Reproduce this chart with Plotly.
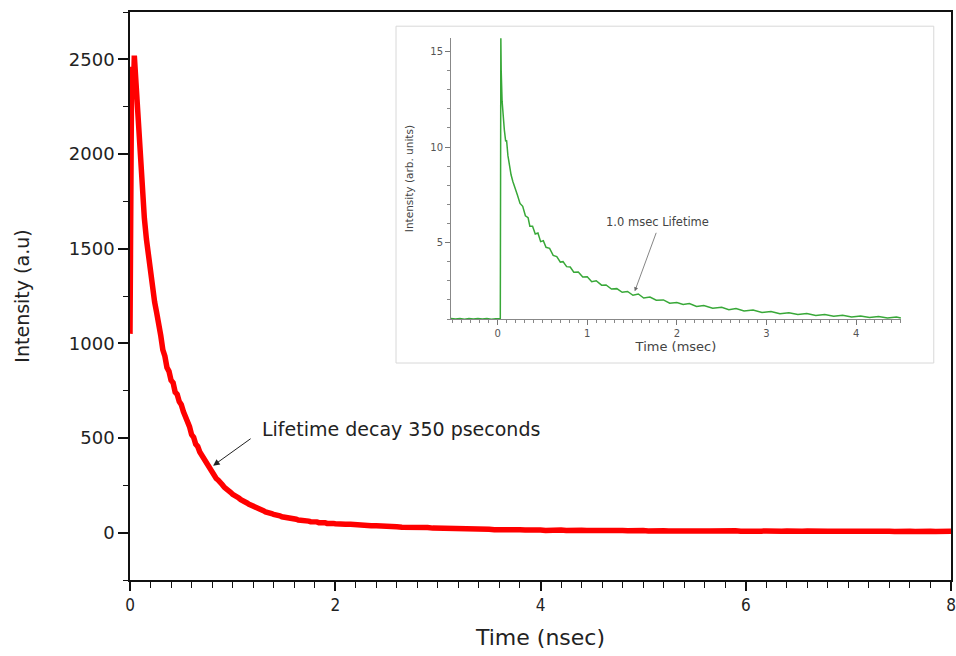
import plotly.graph_objects as go

# ---- main trace: fluorescence decay (Time in nsec, Intensity a.u.) ----
main_time = [0.000, 0.004, 0.010, 0.016, 0.022, 0.030, 0.036, 0.042, 0.050,
             0.06, 0.08, 0.10, 0.12, 0.14, 0.16, 0.18, 0.20, 0.22, 0.24,
             0.26, 0.28, 0.30, 0.32, 0.34, 0.36, 0.38, 0.40, 0.42, 0.44,
             0.46, 0.48, 0.50, 0.52, 0.54, 0.56, 0.58, 0.60, 0.62, 0.64,
             0.66, 0.68, 0.70, 0.72, 0.74, 0.76, 0.78, 0.80, 0.82, 0.84,
             0.86, 0.88, 0.90, 0.92, 0.94, 0.96, 0.98, 1.00, 1.02, 1.04,
             1.06, 1.08, 1.10, 1.12, 1.14, 1.16, 1.18, 1.20, 1.22, 1.24,
             1.26, 1.28, 1.30, 1.32, 1.34, 1.36, 1.38, 1.40, 1.42, 1.44,
             1.46, 1.48, 1.50, 1.52, 1.54, 1.56, 1.58, 1.60, 1.62, 1.64,
             1.66, 1.68, 1.70, 1.72, 1.74, 1.76, 1.78, 1.80, 1.82, 1.84,
             1.86, 1.88, 1.90, 1.92, 1.94, 1.96, 1.98,
             2.00, 2.05, 2.10, 2.15, 2.20, 2.25, 2.30, 2.35, 2.40, 2.45,
             2.50, 2.55, 2.60, 2.65, 2.70, 2.75, 2.80, 2.85, 2.90, 2.95,
             3.00, 3.05, 3.10, 3.15, 3.20, 3.25, 3.30, 3.35, 3.40, 3.45,
             3.50, 3.55, 3.60, 3.65, 3.70, 3.75, 3.80, 3.85, 3.90, 3.95,
             4.00, 4.05, 4.10, 4.15, 4.20, 4.25, 4.30, 4.35, 4.40, 4.45,
             4.50, 4.55, 4.60, 4.65, 4.70, 4.75, 4.80, 4.85, 4.90, 4.95,
             5.00, 5.05, 5.10, 5.15, 5.20, 5.25, 5.30, 5.35, 5.40, 5.45,
             5.50, 5.55, 5.60, 5.65, 5.70, 5.75, 5.80, 5.85, 5.90, 5.95,
             6.00, 6.05, 6.10, 6.15, 6.20, 6.25, 6.30, 6.35, 6.40, 6.45,
             6.50, 6.55, 6.60, 6.65, 6.70, 6.75, 6.80, 6.85, 6.90, 6.95,
             7.00, 7.05, 7.10, 7.15, 7.20, 7.25, 7.30, 7.35, 7.40, 7.45,
             7.50, 7.55, 7.60, 7.65, 7.70, 7.75, 7.80, 7.85, 7.90, 7.95,
             8.00]
main_intensity = [1050, 1750, 2300, 2460, 2400, 2290, 2380, 2520, 2450,
                  2320, 2070, 1915, 1755, 1660, 1550, 1460, 1372, 1312, 1218,
                  1162, 1072, 1040, 965, 932, 872, 852, 805, 792, 742,
                  730, 692, 676, 640, 616, 575, 560, 518, 504, 468,
                  455, 426, 408, 384, 371, 347, 337, 314, 306, 286,
                  277, 259, 253, 239, 233, 220, 213, 203, 198, 188,
                  183, 174, 170, 162, 157, 150, 146, 139, 136, 129,
                  125, 119, 116, 110, 109, 103, 101, 96, 95, 90,
                  89, 84, 83, 79, 79, 75, 75, 71, 71, 67,
                  67, 64, 64, 61, 61, 58, 59, 56, 57, 53,
                  55, 51, 53, 49, 51, 48, 49,
                  47, 49, 44, 45, 41, 40, 39, 36, 36, 33,
                  34, 31, 31, 29, 30, 27, 27, 26, 27, 24,
                  24, 22, 23, 21, 22, 20, 20, 19, 20, 17,
                  18, 16, 17, 15, 17, 15, 15, 14, 16, 13,
                  14, 12, 14, 13, 14, 11, 13, 12, 13, 11,
                  12, 11, 12, 10, 12, 11, 11, 10, 12, 10,
                  11, 9, 11, 9, 10, 9, 10, 9, 10, 8,
                  10, 8, 9, 9, 10, 8, 9, 8, 10, 7,
                  9, 7, 9, 8, 9, 7, 9, 8, 9, 7,
                  8, 7, 9, 7, 8, 7, 8, 7, 9, 7,
                  8, 7, 8, 7, 8, 6, 8, 7, 8, 6,
                  8, 6, 8, 6, 8, 7, 7, 6, 8, 6,
                  7]

# ---- inset trace: phosphorescence decay (Time in msec) ----
inset_time = [-0.52, -0.47, -0.42, -0.37, -0.32, -0.27, -0.22, -0.17, -0.12, -0.07,
              -0.02, 0.030, 0.033, 0.036, 0.040, 0.050, 0.060, 0.075, 0.090, 0.100,
              0.115, 0.130, 0.150, 0.170, 0.200, 0.220, 0.250, 0.280, 0.310, 0.340,
              0.360, 0.390, 0.420, 0.450, 0.480, 0.510, 0.540, 0.580, 0.620, 0.660,
              0.700, 0.730, 0.770, 0.810, 0.850, 0.900, 0.950, 1.000, 1.050, 1.100,
              1.160, 1.210, 1.270, 1.330, 1.390, 1.450, 1.510, 1.570, 1.630, 1.700,
              1.770, 1.850, 1.920, 2.000, 2.070, 2.140, 2.220, 2.300, 2.400, 2.500,
              2.580, 2.660, 2.750, 2.850, 2.950, 3.050, 3.150, 3.250, 3.350, 3.450,
              3.550, 3.650, 3.750, 3.850, 3.950, 4.050, 4.150, 4.250, 4.350, 4.450,
              4.500]
inset_intensity = [1.02, 1.00, 1.03, 0.99, 1.02, 1.00, 1.03, 1.00, 1.02, 0.99,
                   1.01, 1.02, 8.00, 15.75, 14.00, 12.40, 11.60, 10.90, 10.30, 10.35,
                   9.55, 9.05, 8.55, 8.20, 7.70, 7.50, 7.05, 6.90, 6.40, 6.30,
                   5.85, 5.85, 5.45, 5.50, 5.05, 5.10, 4.75, 4.70, 4.33, 4.27,
                   3.98, 4.00, 3.74, 3.72, 3.45, 3.46, 3.20, 3.21, 2.95, 3.00,
                   2.77, 2.78, 2.57, 2.59, 2.40, 2.44, 2.24, 2.31, 2.10, 2.15,
                   1.98, 2.00, 1.83, 1.86, 1.76, 1.81, 1.66, 1.70, 1.56, 1.61,
                   1.49, 1.55, 1.42, 1.47, 1.34, 1.39, 1.28, 1.33, 1.23, 1.29,
                   1.19, 1.24, 1.15, 1.20, 1.11, 1.16, 1.08, 1.13, 1.05, 1.10,
                   1.05]

main_xticks = [0, 2, 4, 6, 8]
main_yticks = [0, 500, 1000, 1500, 2000, 2500]
inset_xticks = [0, 1, 2, 3, 4]
inset_yticks = [5, 10, 15]

fig = go.Figure()

fig.add_trace(go.Scatter(
    x=main_time, y=main_intensity, mode="lines",
    line=dict(color="#ff0000", width=5.5), xaxis="x", yaxis="y",
    showlegend=False, hoverinfo="skip"))

fig.add_trace(go.Scatter(
    x=inset_time, y=inset_intensity, mode="lines",
    line=dict(color="#38a838", width=1.5), xaxis="x2", yaxis="y2",
    showlegend=False, hoverinfo="skip"))

wide = "DejaVu Sans, Verdana, sans-serif"
narrow = "DejaVu Sans Condensed, Liberation Sans Narrow, Liberation Sans, Arial, sans-serif"
inset_font = dict(family=wide, size=10, color="#555")

fig.update_layout(
    template="none",
    width=956, height=656,
    margin=dict(l=130, r=5, t=12, b=76, autoexpand=False),
    paper_bgcolor="white", plot_bgcolor="white",
    xaxis=dict(
        range=[0, 8], domain=[0, 1], automargin=False,
        tickvals=main_xticks, ticktext=[str(v) for v in main_xticks],
        ticks="outside", ticklen=9, tickwidth=1.5, tickcolor="#111",
        minor=dict(dtick=0.2, tick0=0, ticks="outside", ticklen=6, tickwidth=1.2, tickcolor="#111", showgrid=False),
        showline=True, linecolor="#111", linewidth=1.5, mirror=True,
        showgrid=False, zeroline=False,
        tickfont=dict(family=narrow, size=17, color="#222"),
        title=dict(text="Time (nsec)", font=dict(family=wide, size=22, color="#222"), standoff=15),
    ),
    yaxis=dict(
        range=[-250, 2750], domain=[0, 1], automargin=False,
        tickvals=main_yticks, ticktext=[str(v) for v in main_yticks],
        ticks="outside", ticklen=10, tickwidth=1.5, tickcolor="#111",
        minor=dict(dtick=250, tick0=0, ticks="outside", ticklen=5, tickwidth=1.2, tickcolor="#111", showgrid=False),
        showline=True, linecolor="#111", linewidth=1.5, mirror=True,
        showgrid=False, zeroline=False,
        tickfont=dict(family=wide, size=18, color="#222"),
        title=dict(text="Intensity (a.u)", font=dict(family=wide, size=19, color="#222"), standoff=34),
    ),
    xaxis2=dict(
        range=[-0.52, 4.5], domain=[0.391, 0.939], anchor="y2", automargin=False,
        tickvals=inset_xticks, ticktext=[str(v) for v in inset_xticks],
        ticks="outside", ticklen=5, tickwidth=1, tickcolor="#777",
        minor=dict(dtick=0.1, tick0=0, ticks="outside", ticklen=3, tickwidth=1, tickcolor="#888", showgrid=False),
        showline=True, linecolor="#888", linewidth=1,
        showgrid=False, zeroline=False,
        tickfont=inset_font,
        title=dict(text="Time (msec)", font=dict(family=wide, size=13, color="#444"), standoff=2),
    ),
    yaxis2=dict(
        range=[1.0, 15.7], domain=[0.4595, 0.954], anchor="x2", automargin=False,
        tickvals=inset_yticks, ticktext=[str(v) for v in inset_yticks],
        ticks="outside", ticklen=5, tickwidth=1, tickcolor="#777",
        minor=dict(dtick=1, tick0=0, ticks="outside", ticklen=3, tickwidth=1, tickcolor="#888", showgrid=False),
        showline=True, linecolor="#888", linewidth=1,
        showgrid=False, zeroline=False,
        tickfont=inset_font,
        title=dict(text="Intensity (arb. units)", font=dict(family=wide, size=10.5, color="#444"), standoff=14),
    ),
    shapes=[dict(type="rect", xref="paper", yref="paper",
                 x0=0.324, x1=0.979, y0=0.382, y1=0.975,
                 line=dict(color="#d8d8d8", width=1), fillcolor="white", layer="below")],
    annotations=[
        dict(x=0.81, y=354, xref="x", yref="y", ax=39, ay=-28,
             text="", showarrow=True, arrowhead=2, arrowsize=1.3, arrowwidth=1, arrowcolor="#222"),
        dict(x=1.267, y=550, xref="x", yref="y", xanchor="left", yanchor="middle",
             text="Lifetime decay 350 pseconds", showarrow=False,
             font=dict(family=wide, size=19, color="#222")),
        dict(x=1.53, y=2.45, xref="x2", yref="y2", ax=22, ay=-60,
             text="", showarrow=True, arrowhead=2, arrowsize=1, arrowwidth=0.8, arrowcolor="#666"),
        dict(x=1.78, y=6.1, xref="x2", yref="y2", xanchor="center", yanchor="middle",
             text="1.0 msec Lifetime", showarrow=False,
             font=dict(family=wide, size=11.5, color="#444")),
    ],
)

fig.write_html("out.html")
